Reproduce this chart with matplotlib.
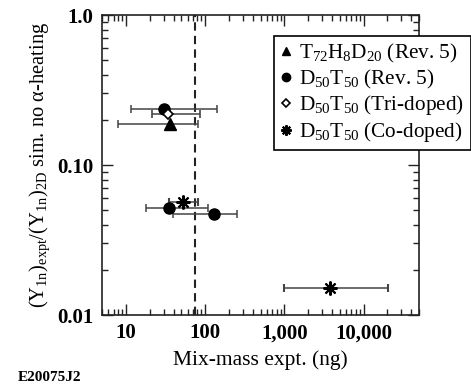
import matplotlib
matplotlib.use("Agg")
import matplotlib.pyplot as plt
from matplotlib.ticker import FixedLocator, LogLocator, NullFormatter

plt.rcParams['font.family'] = ['Liberation Serif', 'DejaVu Serif']
plt.rcParams['mathtext.fontset'] = 'custom'
plt.rcParams['mathtext.rm'] = 'Liberation Serif'
plt.rcParams['mathtext.it'] = 'Liberation Serif:italic'
plt.rcParams['mathtext.bf'] = 'Liberation Serif:bold'

# data: mass (ng), lower/upper mass error, yield ratio
tri_x = [36.3]
tri_lo = [8.0]
tri_hi = [82]
tri_y = [0.187]

circ_x = [30.5, 35.3, 129]
circ_lo = [11.7, 18, 39]
circ_hi = [141, 108, 252]
circ_y = [0.235, 0.0517, 0.0471]

dia_x = [34.3]
dia_lo = [21.4]
dia_hi = [86]
dia_y = [0.218]

star_x = [52.4, 3800]
star_lo = [34.7, 1000]
star_hi = [80.6, 20500]
star_y = [0.0567, 0.0151]

mix_line = 75

labels = [r"T$_{72}$H$_8$D$_{20}$ (Rev. 5)",
          r"D$_{50}$T$_{50}$ (Rev. 5)",
          r"D$_{50}$T$_{50}$ (Tri-doped)",
          r"D$_{50}$T$_{50}$ (Co-doped)"]

fig = plt.figure(figsize=(4.71, 3.9), dpi=100)
ax = fig.add_axes([0.2166, 0.1923, 0.673, 0.7692])

ax.axvline(mix_line, color='#222222', ls=(0, (4, 2.5)), lw=1.5, zorder=1)

def errs(x, lo, hi):
    return [[a - b for a, b in zip(x, lo)], [c - a for a, c in zip(x, hi)]]

ebkw = dict(ls='none', ecolor='#444444', elinewidth=1.1, capsize=3, capthick=1.1)
h1 = ax.errorbar(tri_x, tri_y, xerr=errs(tri_x, tri_lo, tri_hi), marker='^',
                 ms=8, mfc='black', mec='black', **ebkw)
h2 = ax.errorbar(circ_x, circ_y, xerr=errs(circ_x, circ_lo, circ_hi), marker='o',
                 ms=8, mfc='black', mec='black', **ebkw)
h3 = ax.errorbar(dia_x, dia_y, xerr=errs(dia_x, dia_lo, dia_hi), marker='D',
                 ms=5.5, mfc='white', mec='black', mew=1.2, **ebkw)
h4 = ax.errorbar(star_x, star_y, xerr=errs(star_x, star_lo, star_hi), marker=(8, 2, 0),
                 ms=10, mfc='black', mec='black', mew=1.5, **ebkw)

ax.set_xscale('log')
ax.set_yscale('log')
ax.set_xlim(5, 50000)
ax.set_ylim(0.01, 1.0)

ax.xaxis.set_major_locator(FixedLocator([10, 100, 1000, 10000]))
ax.set_xticklabels(["10", "100", "1,000", "10,000"])
ax.xaxis.set_minor_locator(LogLocator(base=10, subs=range(2, 10)))
ax.xaxis.set_minor_formatter(NullFormatter())
ax.yaxis.set_major_locator(FixedLocator([0.01, 0.1, 1.0]))
ax.set_yticklabels(["0.01", "0.10", "1.0"])
ax.yaxis.set_minor_locator(LogLocator(base=10, subs=range(2, 10)))
ax.yaxis.set_minor_formatter(NullFormatter())

ax.tick_params(which='both', direction='in', top=True, right=True, width=1, colors='#222222')
ax.tick_params(which='major', length=8, labelsize=15, pad=6, labelcolor='black')
ax.tick_params(which='minor', length=4)
for lab in ax.get_xticklabels() + ax.get_yticklabels():
    lab.set_fontweight('bold')
for sp in ax.spines.values():
    sp.set_linewidth(1.2)
    sp.set_color('#222222')

ax.set_xlabel("Mix-mass expt. (ng)", fontsize=15.5, labelpad=5)
ax.set_ylabel(r"$(\mathrm{Y}_{1\mathrm{n}})_{\mathrm{expt}}/(\mathrm{Y}_{1\mathrm{n}})_{\mathrm{2D}}$ sim. no α-heating",
              fontsize=14.8, labelpad=4)

handles = [h1[0], h2[0], h3[0], h4[0]]
leg = fig.legend(handles, labels, loc='upper left', bbox_to_anchor=(0.5817, 0.908),
                 fontsize=15.3, frameon=True, fancybox=False, edgecolor='black',
                 framealpha=1, handlelength=0.5, handletextpad=0.4, markerscale=0.75,
                 borderpad=0.3, labelspacing=0.12, borderaxespad=0)
leg.get_frame().set_linewidth(1.2)

fig.text(0.038, 0.022, "E20075J2", fontsize=11, fontweight='bold')

fig.savefig("out.png", dpi=100)
